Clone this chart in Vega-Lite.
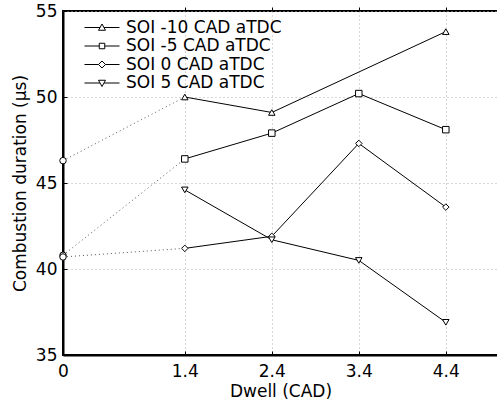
{
  "$schema": "https://vega.github.io/schema/vega-lite/v6.json",
  "width": 435,
  "height": 344,
  "autosize": {"type": "none"},
  "padding": {"left": 63, "top": 11, "right": 0, "bottom": 51},
  "background": "white",
  "config": {
    "font": "DejaVu Sans",
    "view": {"stroke": "black", "strokeWidth": 2},
    "axis": {
      "domainColor": "black", "domainWidth": 2, "tickColor": "black", "tickSize": -4,
      "labelColor": "black", "titleColor": "black", "labelFontSize": 17, "titleFontSize": 17,
      "titleFontWeight": "normal", "grid": false, "gridColor": "#b0b0b0", "gridDash": [1, 3],
      "gridWidth": 1, "labelFont": "DejaVu Sans", "titleFont": "DejaVu Sans"
    }
  },
  "data": {
    "values": [
      {"series": "SOI -10 CAD aTDC", "dwell": 0, "duration": 46.3},
      {"series": "SOI -10 CAD aTDC", "dwell": 1.4, "duration": 50.0},
      {"series": "SOI -10 CAD aTDC", "dwell": 2.4, "duration": 49.1},
      {"series": "SOI -10 CAD aTDC", "dwell": 4.4, "duration": 53.8},
      {"series": "SOI -5 CAD aTDC", "dwell": 0, "duration": 40.8},
      {"series": "SOI -5 CAD aTDC", "dwell": 1.4, "duration": 46.4},
      {"series": "SOI -5 CAD aTDC", "dwell": 2.4, "duration": 47.9},
      {"series": "SOI -5 CAD aTDC", "dwell": 3.4, "duration": 50.2},
      {"series": "SOI -5 CAD aTDC", "dwell": 4.4, "duration": 48.1},
      {"series": "SOI 0 CAD aTDC", "dwell": 0, "duration": 40.7},
      {"series": "SOI 0 CAD aTDC", "dwell": 1.4, "duration": 41.2},
      {"series": "SOI 0 CAD aTDC", "dwell": 2.4, "duration": 41.9},
      {"series": "SOI 0 CAD aTDC", "dwell": 3.4, "duration": 47.3},
      {"series": "SOI 0 CAD aTDC", "dwell": 4.4, "duration": 43.6},
      {"series": "SOI 5 CAD aTDC", "dwell": 1.4, "duration": 44.6},
      {"series": "SOI 5 CAD aTDC", "dwell": 2.4, "duration": 41.7},
      {"series": "SOI 5 CAD aTDC", "dwell": 3.4, "duration": 40.5},
      {"series": "SOI 5 CAD aTDC", "dwell": 4.4, "duration": 36.9}
    ]
  },
  "layer": [
    {
      "transform": [{"filter": "datum.dwell <= 1.4"}],
      "mark": {"type": "line", "color": "#555555", "strokeWidth": 1, "strokeDash": [1, 3]},
      "encoding": {
        "x": {"field": "dwell", "type": "quantitative", "scale": {"domain": [0, 5], "nice": false},
              "axis": {"orient": "top", "values": [1.4, 2.4, 3.4, 4.4], "labels": false, "title": null, "domain": false, "tickSize": 4}},
        "y": {"field": "duration", "type": "quantitative", "scale": {"domain": [35, 55], "nice": false},
              "axis": {"orient": "right", "values": [40, 45, 50], "labels": false, "title": null, "domain": false, "tickSize": 4}},
        "detail": {"field": "series"}
      }
    },
    {
      "transform": [{"filter": "datum.dwell >= 1.4"}],
      "mark": {"type": "line", "color": "black", "strokeWidth": 1},
      "encoding": {
        "x": {"field": "dwell", "type": "quantitative",
              "axis": {"orient": "bottom", "values": [0, 1.4, 2.4, 3.4, 4.4],
                       "labelExpr": "datum.value == 0 ? '0' : format(datum.value, '.1f')", "grid": true,
                       "labelPadding": 12, "title": "Dwell (CAD)", "titlePadding": 4, "labelFlush": false}},
        "y": {"field": "duration", "type": "quantitative",
              "axis": {"orient": "left", "values": [35, 40, 45, 50, 55], "grid": true,
                       "labelPadding": 10, "title": "Combustion duration (μs)", "titlePadding": 6, "labelFlush": false}},
        "detail": {"field": "series"}
      }
    },
    {
      "transform": [{"filter": "datum.dwell > 0"}],
      "mark": {"type": "point", "filled": false, "color": "black", "fill": "white", "fillOpacity": 1, "strokeWidth": 1, "opacity": 1, "size": 42},
      "encoding": {
        "x": {"field": "dwell", "type": "quantitative", "axis": null},
        "y": {"field": "duration", "type": "quantitative", "axis": null},
        "shape": {
          "field": "series", "type": "nominal",
          "scale": {"domain": ["SOI -10 CAD aTDC", "SOI -5 CAD aTDC", "SOI 0 CAD aTDC", "SOI 5 CAD aTDC"],
                    "range": ["triangle-up", "square", "diamond", "triangle-down"]},
          "legend": null
        }
      }
    },
    {
      "transform": [{"filter": "datum.dwell > 100"}],
      "mark": {"type": "point", "filled": false, "color": "black", "strokeWidth": 1, "opacity": 1, "size": 100},
      "encoding": {
        "x": {"field": "dwell", "type": "quantitative", "axis": null},
        "y": {"field": "duration", "type": "quantitative", "axis": null},
        "shape": {
          "field": "series", "type": "nominal",
          "scale": {"domain": ["SOI -10 CAD aTDC", "SOI -5 CAD aTDC", "SOI 0 CAD aTDC", "SOI 5 CAD aTDC"],
                    "range": [
                      "M -3.5 0 H -0.4 M 0.4 0 H 3.5 M 0 -0.7 L 0.7 0.55 L -0.7 0.55 Z",
                      "M -3.5 0 H -0.55 M 0.55 0 H 3.5 M -0.55 -0.55 H 0.55 V 0.55 H -0.55 Z",
                      "M -3.5 0 H -0.7 M 0.7 0 H 3.5 M 0 -0.7 L 0.7 0 L 0 0.7 L -0.7 0 Z",
                      "M -3.5 0 H -0.4 M 0.4 0 H 3.5 M 0 0.7 L 0.7 -0.55 L -0.7 -0.55 Z"
                    ]},
          "legend": {
            "title": null, "orient": "none", "legendX": 30.5, "legendY": 8,
            "labelFontSize": 17, "labelColor": "black", "labelFont": "DejaVu Sans",
            "labelOffset": 15.5, "rowPadding": 0.5, "symbolSize": 100,
            "symbolStrokeColor": "black", "symbolStrokeWidth": 1
          }
        }
      }
    },
    {
      "transform": [{"filter": "datum.dwell == 0"}],
      "mark": {"type": "point", "shape": "circle", "filled": false, "color": "black", "fill": "white", "fillOpacity": 1, "strokeWidth": 1, "opacity": 1, "size": 42},
      "encoding": {
        "x": {"field": "dwell", "type": "quantitative", "axis": null},
        "y": {"field": "duration", "type": "quantitative", "axis": null}
      }
    }
  ],
  "resolve": {"axis": {"x": "independent", "y": "independent"}, "scale": {"shape": "independent"}}
}
